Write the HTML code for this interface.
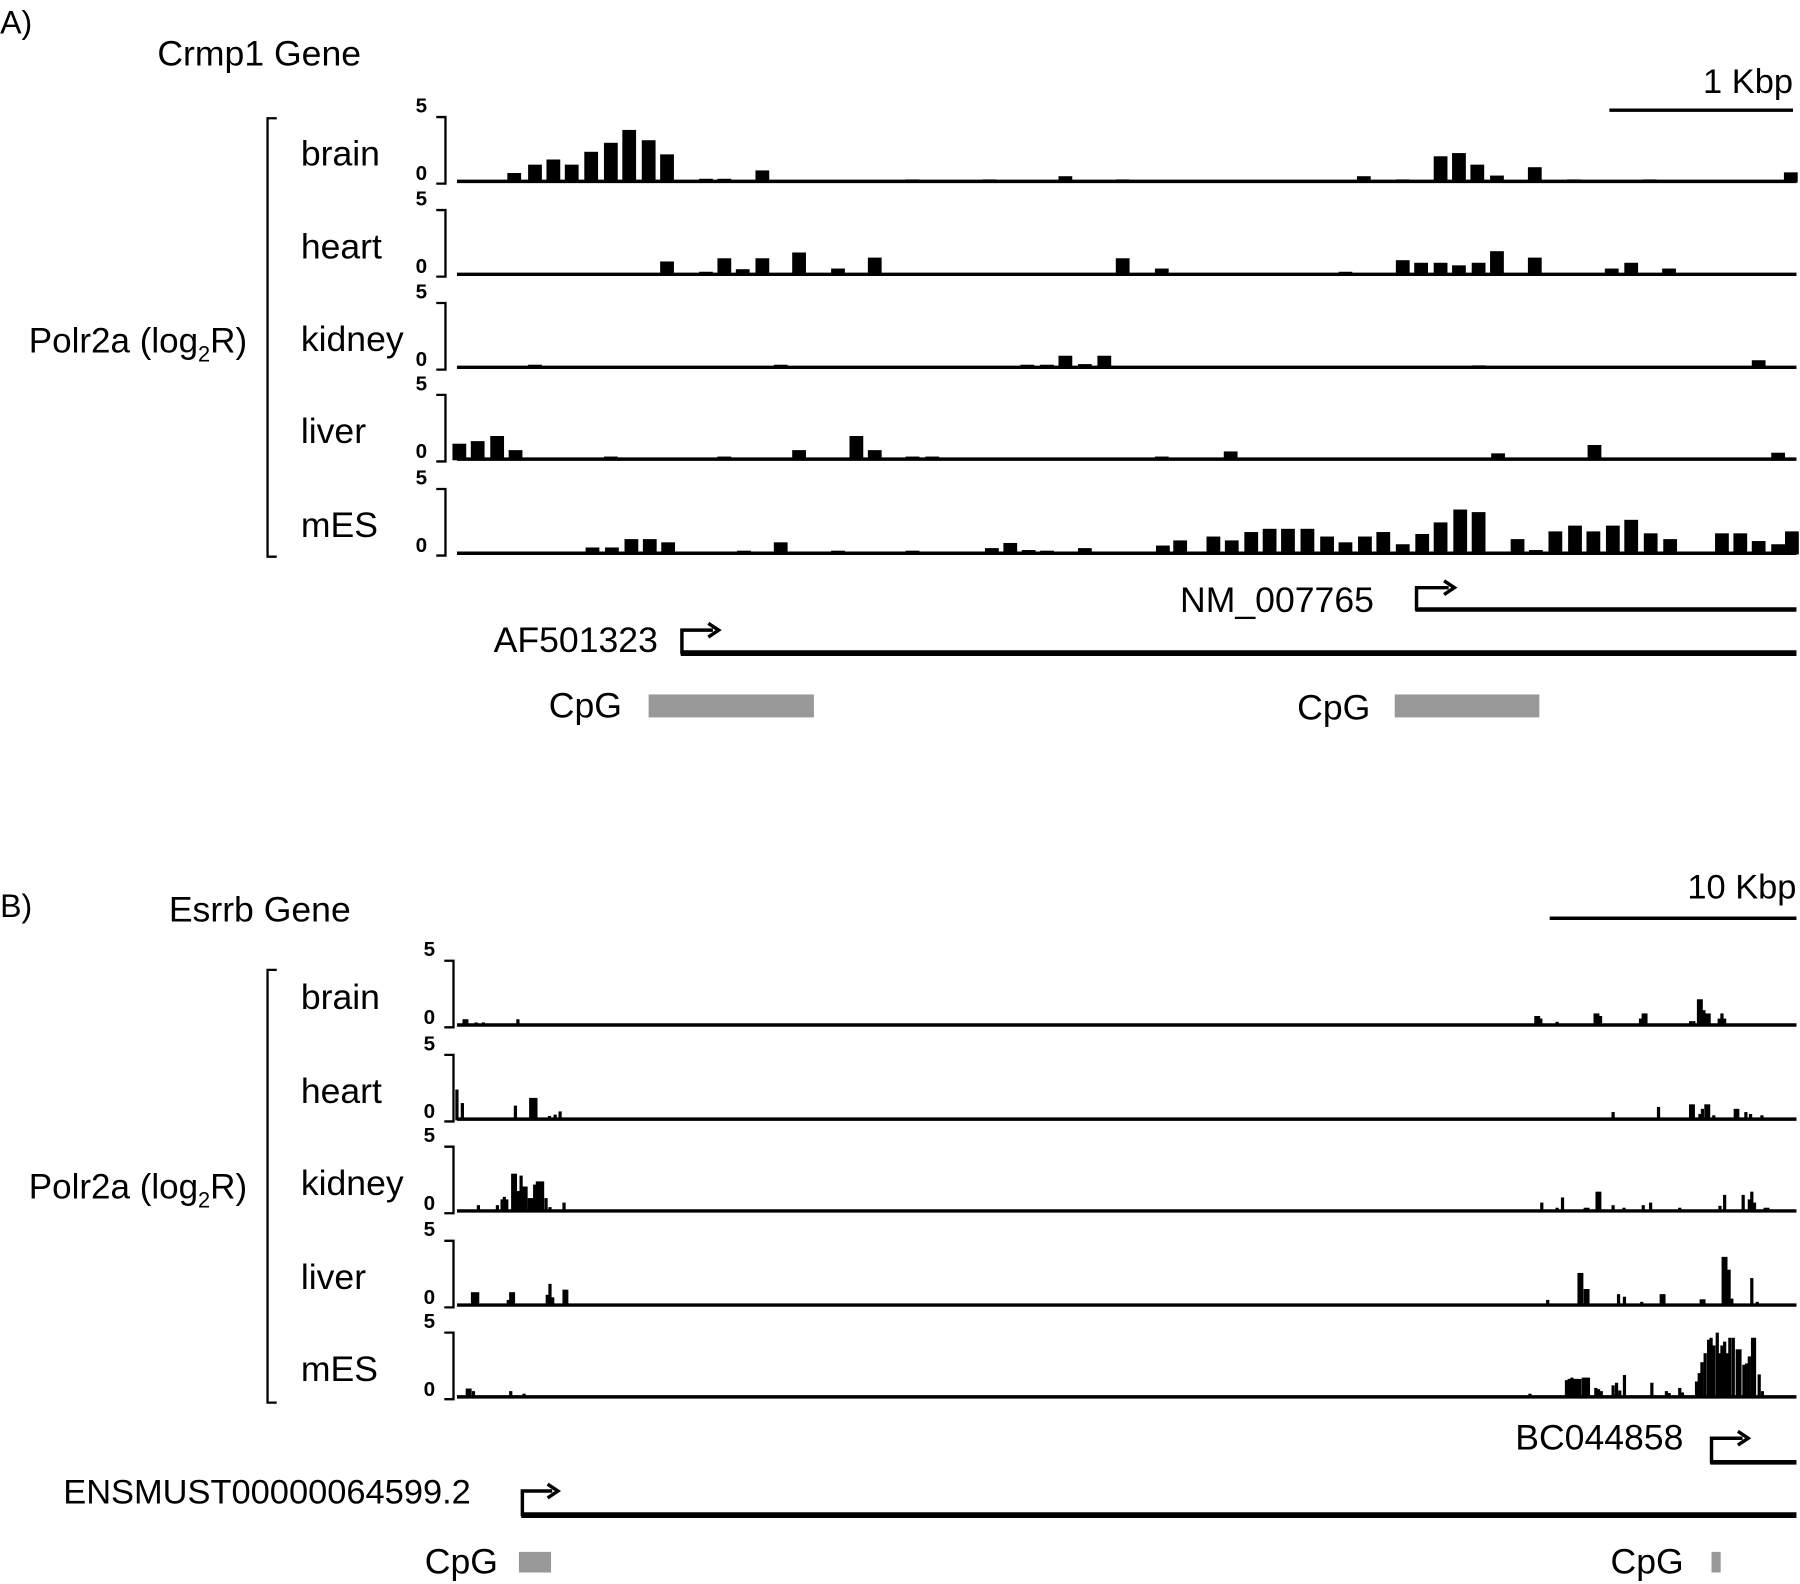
<!DOCTYPE html>
<html><head><meta charset="utf-8"><style>
html,body{margin:0;padding:0;background:#fff}
svg{display:block}
text{font-family:"Liberation Sans",Arial,sans-serif;fill:#000}
</style></head><body>
<svg id="fig" xmlns="http://www.w3.org/2000/svg" width="1800" height="1584" viewBox="0 0 1568 1380">
<g>
<text x="0" y="29" font-size="28">A)</text>
<text x="137" y="57" font-size="31">Crmp1 Gene</text>
<text x="1562" y="81" font-size="30" text-anchor="end">1 Kbp</text>
<line x1="1402" y1="96" x2="1562" y2="96" stroke="#000" stroke-width="3"/>
<path d="M241,103 H233 V485 H241" fill="none" stroke="#000" stroke-width="2"/>
<text x="25" y="307" font-size="30.5">Polr2a (log<tspan font-size="19" dy="8">2</tspan><tspan dy="-8">R)</tspan></text>
</g>
<g>
<text x="1028" y="533" font-size="31">NM_007765</text>
<path d="M1234,532 V512 H1262" fill="none" stroke="#000" stroke-width="3"/><path d="M1258,506 L1267,512 L1258,518" fill="none" stroke="#000" stroke-width="3"/>
<line x1="1233" y1="531" x2="1565" y2="531" stroke="#000" stroke-width="4"/>
<text x="430" y="568" font-size="31">AF501323</text>
<path d="M594,570 V549 H621" fill="none" stroke="#000" stroke-width="3"/><path d="M617,543 L626,549 L617,555" fill="none" stroke="#000" stroke-width="3"/>
<line x1="593" y1="569" x2="1565" y2="569" stroke="#000" stroke-width="5"/>
<text x="478" y="625" font-size="31">CpG</text>
<rect x="565" y="605" width="144" height="20" fill="#999"/>
<text x="1130" y="627" font-size="31">CpG</text>
<rect x="1215" y="605" width="126" height="20" fill="#999"/>
</g>
<g>
<text x="0" y="799" font-size="28">B)</text>
<text x="147" y="803" font-size="31">Esrrb Gene</text>
<text x="1565" y="783" font-size="30" text-anchor="end">10 Kbp</text>
<line x1="1350" y1="800" x2="1565" y2="800" stroke="#000" stroke-width="3"/>
<path d="M241,845 H233 V1222 H241" fill="none" stroke="#000" stroke-width="2"/>
<text x="25" y="1044" font-size="30.5">Polr2a (log<tspan font-size="19" dy="8">2</tspan><tspan dy="-8">R)</tspan></text>
</g>
<g>
<text x="1320" y="1263" font-size="31">BC044858</text>
<path d="M1491,1275 V1253 H1518" fill="none" stroke="#000" stroke-width="3"/><path d="M1514,1247 L1523,1253 L1514,1259" fill="none" stroke="#000" stroke-width="3"/>
<line x1="1490" y1="1274" x2="1565" y2="1274" stroke="#000" stroke-width="4"/>
<text x="55" y="1310" font-size="30">ENSMUST00000064599.2</text>
<path d="M455,1321 V1299 H481" fill="none" stroke="#000" stroke-width="3"/><path d="M477,1293 L486,1299 L477,1305" fill="none" stroke="#000" stroke-width="3"/>
<line x1="454" y1="1320" x2="1565" y2="1320" stroke="#000" stroke-width="5"/>
<text x="370" y="1371" font-size="31">CpG</text>
<rect x="452" y="1352" width="28" height="18" fill="#999"/>
<text x="1403" y="1371" font-size="31">CpG</text>
<rect x="1491" y="1352" width="8" height="18" fill="#999"/>
</g>
</svg>
<script>
// Track names
const tissues = ["brain","heart","kidney","liver","mES"];
// Panel A (positions in bp, values log2R)
const aBrainPos = [312,425,525,625,731,838,938,1044,1144,1356,1456,1663,2481,2900,3313,3625,4938,5150,5356,5456,5556,5663,5869,6081,6494,7263];
const aBrainVal = [0.65,1.3,1.7,1.3,2.3,3.0,4.0,3.2,2.1,0.2,0.2,0.85,0.15,0.15,0.4,0.15,0.4,0.15,1.95,2.2,1.3,0.45,1.1,0.15,0.15,0.7];
const aHeartPos = [1144,1356,1456,1556,1663,1863,2075,2275,3625,3838,4838,5150,5250,5356,5456,5563,5663,5869,6288,6394,6600];
const aHeartVal = [1.0,0.2,1.25,0.4,1.25,1.7,0.45,1.3,1.25,0.45,0.2,1.1,0.9,0.9,0.7,0.9,1.8,1.3,0.45,0.9,0.45];
const aKidneyPos = [425,1763,3106,3213,3313,3419,3525,5563,7088];
const aKidneyVal = [0.2,0.2,0.2,0.2,0.9,0.25,0.9,0.15,0.55];
const aLiverPos = [13,113,219,319,838,1456,1863,2175,2275,2481,2588,3838,4213,5669,6194,7194];
const aLiverVal = [1.2,1.4,1.8,0.7,0.2,0.2,0.7,1.8,0.7,0.2,0.2,0.2,0.6,0.45,1.1,0.5];
const aMesPos = [738,844,950,1050,1150,1563,1763,2075,2481,2913,3013,3113,3213,3419,3844,3938,4119,4219,4325,4425,4525,4631,4738,4838,4944,5044,5150,5256,5356,5463,5563,5775,5875,5981,6088,6188,6294,6394,6500,6606,6888,6988,7088,7194,7269];
const aMesVal = [0.45,0.45,1.1,1.1,0.85,0.2,0.85,0.2,0.2,0.4,0.8,0.25,0.2,0.4,0.6,1.0,1.3,1.0,1.65,1.9,1.9,1.9,1.3,0.85,1.3,1.65,0.7,1.5,2.4,3.4,3.2,1.1,0.25,1.7,2.15,1.7,2.15,2.6,1.55,1.1,1.55,1.55,0.95,0.7,1.7];
// Panel B (positions in kb, values log2R)
const bBrainPos = [0.29,0.4,0.78,1.07,2.47,43.72,43.83,43.92,44.58,46.12,46.23,46.34,47.96,48.07,48.18,49.99,50.12,50.31,50.42,50.53,50.64,50.74,51.15,51.26,51.37];
const bBrainVal = [0.45,0.45,0.2,0.2,0.45,0.7,0.7,0.5,0.25,0.9,0.9,0.7,0.5,0.9,0.9,0.3,0.3,2.0,2.0,1.15,0.9,0.9,0.5,0.9,0.5];
const bHeartPos = [0.0,0.22,2.37,2.99,3.1,3.2,3.75,3.98,4.18,46.85,48.69,49.99,50.1,50.37,50.47,50.61,50.72,50.93,51.8,51.9,52.23,52.42,52.88];
const bHeartVal = [2.3,1.25,1.05,1.65,1.65,1.65,0.25,0.35,0.6,0.55,0.95,1.15,1.15,0.4,0.8,1.15,1.15,0.3,0.8,0.8,0.55,0.4,0.3];
const bKidneyPos = [0.87,1.64,1.83,1.92,2.02,2.26,2.37,2.49,2.6,2.69,2.8,2.93,3.04,3.15,3.26,3.37,3.47,3.61,3.77,4.34,43.96,44.58,44.8,45.72,45.83,46.2,46.31,46.85,47.29,48.07,48.37,49.55,51.18,51.37,52.12,52.37,52.47,52.58,53.01,53.12];
const bKidneyVal = [0.45,0.45,0.9,1.1,0.9,2.9,2.9,1.55,2.75,1.9,1.9,1.0,1.0,2.05,2.3,2.3,2.3,1.0,0.3,0.65,0.65,0.25,1.05,0.25,0.25,1.5,1.5,0.45,0.25,0.45,0.65,0.25,0.4,1.25,1.25,0.9,1.5,0.65,0.25,0.25];
const bLiverPos = [0.63,0.73,0.84,2.08,2.18,2.29,3.66,3.77,3.88,4.34,4.45,44.2,45.47,45.58,45.72,45.83,47.07,47.31,48.01,48.8,48.91,50.42,50.53,51.31,51.42,51.55,51.66,52.47,52.69];
const bLiverVal = [1.0,1.0,1.0,0.4,1.0,1.0,0.8,1.65,0.6,1.2,1.2,0.4,2.5,2.5,1.25,1.25,0.85,0.65,0.25,0.85,0.85,0.45,0.45,3.75,3.75,2.75,0.5,2.1,0.25];
const bMesPos = [0.42,0.53,0.67,2.18,2.72,43.48,44.96,45.07,45.18,45.29,45.39,45.5,45.64,45.74,45.85,46.15,46.26,46.37,46.85,46.99,47.12,47.31,48.42,49.01,49.12,49.55,49.66,50.23,50.34,50.45,50.58,50.72,50.82,50.93,51.07,51.18,51.26,51.37,51.47,51.58,51.72,51.88,51.99,52.15,52.26,52.37,52.5,52.58,52.77,52.9];
const bMesVal = [0.65,0.65,0.45,0.45,0.25,0.25,1.3,1.4,1.5,1.4,1.4,1.4,1.5,1.5,1.5,0.7,0.6,0.45,0.9,1.1,0.5,1.7,1.1,0.45,0.3,0.7,0.35,1.2,1.85,2.7,3.4,4.45,4.6,4.0,5.0,3.4,4.0,4.3,3.4,4.6,4.6,3.7,3.7,2.5,2.6,3.15,4.6,4.6,1.75,0.45];
const yTicks = ["5","0"];

const NS = "http://www.w3.org/2000/svg";
const svg = document.getElementById("fig");
function mk(tag, attrs, parent){
  const e = document.createElementNS(NS, tag);
  for (const k in attrs) e.setAttribute(k, attrs[k]);
  parent.appendChild(e);
  return e;
}
const xA = bp => 398 + bp / 6.25;
const xB = kb => 398 + kb * 21.5;
const unitPx = 11.2;
const yVal = (base, v) => base - v * unitPx;

function drawPanel(panel, baselines, data, xs, barW, axisX){
  data.forEach((d, i) => {
    const base = baselines[i];
    const g = mk("g", {}, svg);
    
    
    const lab = mk("text", {x: 262, y: base - 14, "font-size": 31}, g);
    lab.textContent = tissues[i];
    
    
    const top = yVal(base, 5);
    const ax = mk("path", {d: `M${axisX-8},${top} H${axisX} V${base+2} H${axisX-8}`, fill: "none", stroke: "#000", "stroke-width": 2}, g);
    
    
    [top - 4, base - 1].forEach((ty, k) => {
      const t = mk("text", {x: axisX - 26, y: ty, "font-size": 18, "font-weight": "bold"}, g);
      t.textContent = yTicks[k];
      
      
    });
    const bl = mk("line", {x1: 398, y1: base, x2: 1565, y2: base, stroke: "#000", "stroke-width": 3}, g);
    
    
    d.pos.forEach((p, j) => {
      const v = d.val[j];
      const x = xs(p);
      const r = mk("rect", {x: (x - barW/2).toFixed(2), y: yVal(base, v).toFixed(2), width: barW, height: (v*unitPx + 1).toFixed(2), fill: "#000"}, g);
      
      
    });
  });
}
drawPanel("a", [158,239,320,400,482], [
  {pos:aBrainPos,val:aBrainVal},{pos:aHeartPos,val:aHeartVal},{pos:aKidneyPos,val:aKidneyVal},
  {pos:aLiverPos,val:aLiverVal},{pos:aMesPos,val:aMesVal}], xA, 12, 388);
drawPanel("b", [893,975,1055,1137,1217], [
  {pos:bBrainPos,val:bBrainVal},{pos:bHeartPos,val:bHeartVal},{pos:bKidneyPos,val:bKidneyVal},
  {pos:bLiverPos,val:bLiverVal},{pos:bMesPos,val:bMesVal}], xB, 2.8, 395);
</script>
</body></html>
